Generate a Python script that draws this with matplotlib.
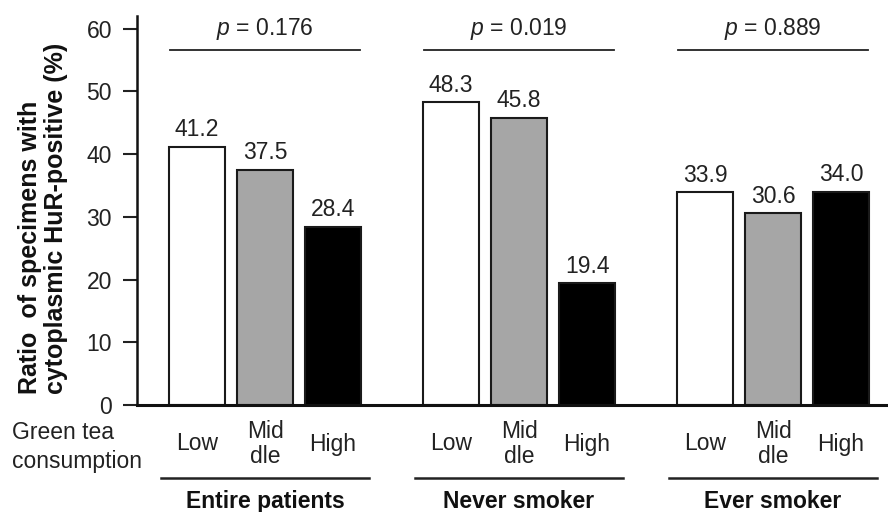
"""Ratio of cytoplasmic HuR-positive specimens by green tea consumption."""

import matplotlib

matplotlib.use("Agg")
from matplotlib import pyplot as plt
from matplotlib import transforms

plt.rcParams["font.family"] = ["Liberation Sans", "DejaVu Sans"]
plt.rcParams["mathtext.fontset"] = "custom"
plt.rcParams["mathtext.it"] = "Liberation Sans:italic"
plt.rcParams["mathtext.rm"] = "Liberation Sans"

groups = ["Entire patients", "Never smoker", "Ever smoker"]
levels = ["Low", "Mid\ndle", "High"]
low_values = [41.2, 48.3, 33.9]
middle_values = [37.5, 45.8, 30.6]
high_values = [28.4, 19.4, 34.0]
p_values = ["0.176", "0.019", "0.889"]
y_ticks = [0, 10, 20, 30, 40, 50, 60]

bar_colors = ["white", "#a6a6a6", "black"]
FS = 16.5

# layout in pixel-like x units (axes spans 137..888)
GROUP_START = 265
GROUP_STEP = 254
BAR_STEP = 68
BAR_WIDTH = 56

fig = plt.figure(figsize=(8.88, 5.12), dpi=100)
ax = fig.add_axes([137 / 888, 1 - 405 / 512, (888 - 137) / 888, (405 - 16) / 512])
ax.set_xlim(137, 888)
ax.set_ylim(0, 62)

series = [low_values, middle_values, high_values]
xfig = transforms.blended_transform_factory(ax.transData, fig.transFigure)

for g, group in enumerate(groups):
    center = GROUP_START + GROUP_STEP * g
    for b, values in enumerate(series):
        x = center + BAR_STEP * (b - 1)
        value = values[g]
        ax.bar(x, value, width=BAR_WIDTH, color=bar_colors[b], edgecolor="#1a1a1a",
               linewidth=1.5, zorder=2)
        ax.annotate(f"{value:.1f}", (x, value), xytext=(0, 7.5), textcoords="offset points",
                    ha="center", va="baseline", fontsize=FS, color="#222222")
        ax.text(x, 1 - 444 / 512, levels[b], transform=xfig, ha="center", va="center",
                fontsize=FS, linespacing=1.12, color="#222222")

    # p-value bracket above each group
    ax.plot([center - 95, center + 95], [56.6, 56.6], color="#222222", linewidth=1.3, clip_on=False)
    ax.text(center, 59.0, f"$p$ = {p_values[g]}", ha="center", va="baseline", fontsize=FS,
            color="#222222", clip_on=False)

    # group underline and name
    ax.plot([center - 104, center + 104], [1 - 478 / 512] * 2, transform=xfig, color="#222222",
            linewidth=1.8, clip_on=False)
    ax.text(center, 1 - 508 / 512, group, transform=xfig, ha="center", va="baseline",
            fontsize=FS, fontweight="bold", color="#111111")

fig.text(12 / 888, 1 - 447 / 512, "Green tea\nconsumption", ha="left", va="center",
         fontsize=FS, linespacing=1.3, color="#222222")

fig.text(43 / 888, 1 - 218 / 512, "Ratio  of specimens with\ncytoplasmic HuR-positive (%)",
         rotation=90, ha="center", va="center", multialignment="left", fontsize=18,
         fontweight="bold", linespacing=1.15, color="#111111")

ax.set_yticks(y_ticks)
ax.set_xticks([])
ax.tick_params(axis="y", direction="out", length=10, width=1.5, pad=8, labelsize=FS,
               colors="#222222")
for side in ["top", "right"]:
    ax.spines[side].set_visible(False)
ax.spines["left"].set_linewidth(1.8)
ax.spines["bottom"].set_linewidth(2.2)
ax.spines["left"].set_color("#111111")
ax.spines["bottom"].set_color("#111111")

fig.savefig("out.png", dpi=100)
